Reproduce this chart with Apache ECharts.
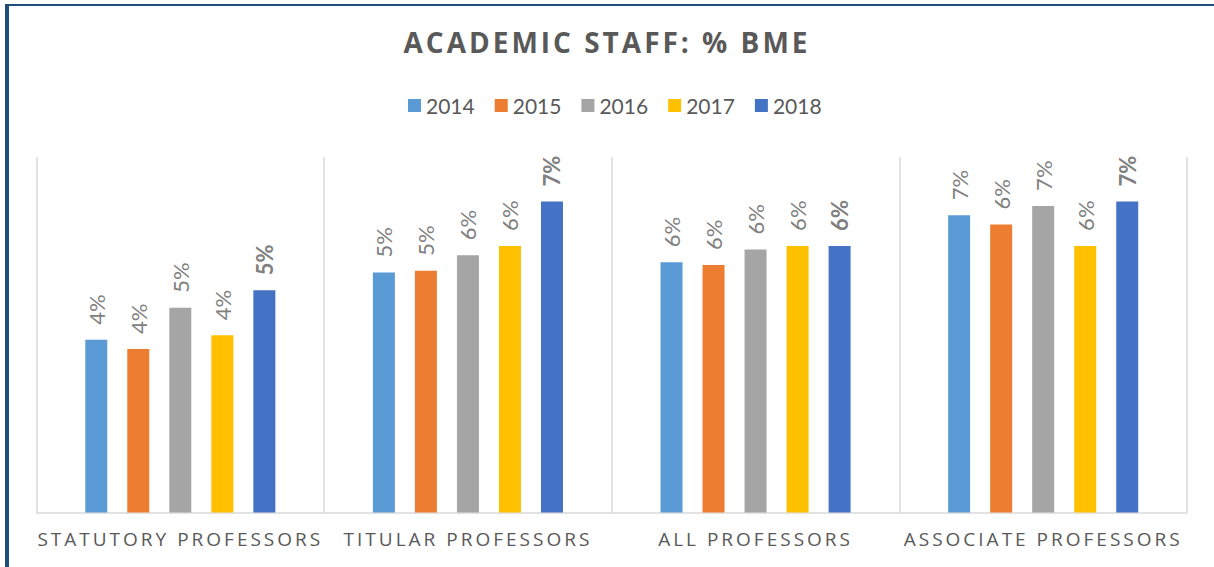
<!DOCTYPE html>
<html>
<head>
<meta charset="utf-8">
<script src="https://cdn.jsdelivr.net/npm/echarts@6/dist/echarts.min.js"></script>
<style>
  html, body { margin: 0; padding: 0; background: #fff; }
  #main { width: 1214px; height: 567px; }
  /* Excel-like letter spacing for title and category labels */
  #main text[style*="Open Sans"] { letter-spacing: 3px; }
</style>
</head>
<body>
<div id="main"></div>
<script>
var categories = ['STATUTORY PROFESSORS', 'TITULAR PROFESSORS', 'ALL PROFESSORS', 'ASSOCIATE PROFESSORS'];
var years = ['2014', '2015', '2016', '2017', '2018'];
var colors = ['#5b9bd5', '#ed7d31', '#a5a5a5', '#ffc000', '#4472c4'];

// % BME per year, one value per category
var v2014 = [3.89, 5.40, 5.63, 6.69];
var v2015 = [3.68, 5.44, 5.57, 6.48];
var v2016 = [4.61, 5.79, 5.92, 6.90];
var v2017 = [3.99, 6.00, 6.00, 6.00];
var v2018 = [5.00, 7.00, 6.00, 7.00];

var values = [v2014, v2015, v2016, v2017, v2018];

var dom = document.getElementById('main');
var myChart = echarts.init(dom, null, { renderer: 'svg' });

var series = years.map(function (y, i) {
    return {
        name: y,
        type: 'bar',
        barWidth: 22,
        barGap: '91%',
        data: values[i],
        itemStyle: { color: colors[i] },
        label: {
            show: true,
            position: 'top',
            distance: 15,
            rotate: 90,
            align: 'left',
            verticalAlign: 'middle',
            color: '#808080',
            fontFamily: 'Lato',
            fontSize: 22,
            fontWeight: i === 4 ? 'bold' : 'normal',
            formatter: function (p) {
                return Math.round(p.value) + '%';
            }
        }
    };
});

var option = {
    backgroundColor: '#ffffff',
    animation: false,
    title: {
        text: 'ACADEMIC STAFF: % BME',
        left: 'center',
        top: 23,
        textStyle: {
            color: '#595959',
            fontFamily: 'Open Sans',
            fontWeight: 'bold',
            fontSize: 28
        }
    },
    legend: {
        data: years,
        left: 403,
        top: 90,
        icon: 'rect',
        itemWidth: 13,
        itemHeight: 13,
        itemGap: 20,
        textStyle: { color: '#595959', fontFamily: 'Lato', fontSize: 21 }
    },
    graphic: [
        { type: 'rect', shape: { x: 5, y: 4, width: 4, height: 563 }, style: { fill: '#1f4e79' } },
        { type: 'rect', shape: { x: 5, y: 4, width: 1209, height: 2 }, style: { fill: '#1f4e79' } }
    ],
    grid: {
        left: 36.5,
        right: 27,
        top: 157,
        bottom: 54.5
    },
    xAxis: {
        type: 'category',
        data: categories,
        axisLine: { lineStyle: { color: '#d9d9d9', width: 1.5 } },
        axisTick: { show: false, interval: 0 },
        splitLine: { show: true, interval: 0, lineStyle: { color: '#d9d9d9', width: 1.5 } },
        axisLabel: {
            interval: 0,
            hideOverlap: false,
            color: '#595959',
            fontFamily: 'Open Sans',
            fontSize: 19,
            margin: 17
        }
    },
    yAxis: {
        type: 'value',
        min: 0,
        max: 8,
        show: false,
        splitLine: { show: false }
    },
    series: series
};

myChart.setOption(option);
</script>
</body>
</html>
